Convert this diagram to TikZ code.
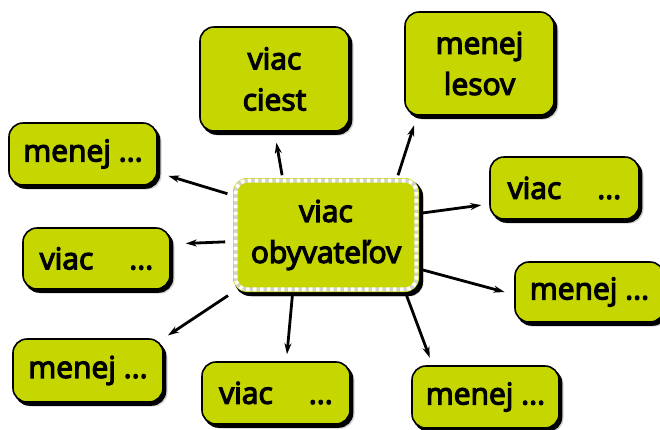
\documentclass[tikz,border=0pt]{standalone}
\usepackage{fontspec}
\setmainfont{Open Sans}[FakeBold=4]
\usepackage{xcolor}
\definecolor{leaf}{RGB}{197,214,0}
\usepackage{tikz}
\usetikzlibrary{arrows.meta,shadows}

\tikzset{
  box/.style={draw=black, line width=1.6pt, fill=leaf, rounded corners=14pt, align=center, inner sep=0pt,
    drop shadow={shadow xshift=4.5pt, shadow yshift=-4.5pt, fill=gray, opacity=0.35},
    copy shadow={shadow xshift=2.5pt, shadow yshift=-3pt, fill=black, draw=black}},
  hub/.style={box, draw=none,
    copy shadow={shadow xshift=4pt, shadow yshift=-4pt, fill=black, draw=none}},
  perf/.style={white, line width=4pt, dash pattern=on 3.5pt off 3.5pt, rounded corners=11pt,
    preaction={draw=gray!35, line width=4pt, dash pattern=on 3.5pt off 3.5pt, dash phase=3.5pt}},
  arr/.style={line width=2.8pt, -{Stealth[length=11pt, width=7pt]}},
}

\begin{document}
\begin{tikzpicture}[x=1pt, y=-1pt, font=\fontsize{30}{41}\selectfont]
\useasboundingbox (0,0) rectangle (660,429);
% hub
\node[hub, minimum width=186pt, minimum height=114pt] (cen) at (326,235) {viac\\obyvateľov};
\draw[perf] ([shift={(3.5,-3.5)}]cen.south west) rectangle ([shift={(-3.5,3.5)}]cen.north east);
% top
\node[box, minimum width=149pt, minimum height=104pt] (ciest) at (274.5,79) {viac\\ciest};
\node[box, minimum width=149pt, minimum height=103pt] (lesov) at (479.5,63.5) {menej\\lesov};
% left side
\node[box, minimum width=148pt, minimum height=62pt] (mlt) at (83,154) {menej ...};
\node[box, minimum width=147pt, minimum height=61pt] (vl) at (96.5,258.5) {viac\hspace{1.2em}...};
\node[box, minimum width=150pt, minimum height=63pt] (mbl) at (88,370.5) {menej ...};
% bottom
\node[box, minimum width=148pt, minimum height=62pt] (vb) at (276,393) {viac\hspace{1.2em}...};
\node[box, minimum width=147pt, minimum height=62pt] (mbr) at (485.5,397) {menej ...};
% right side
\node[box, minimum width=149pt, minimum height=62pt] (vr) at (564.5,188) {viac\hspace{1.2em}...};
\node[box, minimum width=149pt, minimum height=60pt] (mr) at (589.5,292) {menej ...};
% connectors
\draw[arr, shorten <=2pt, shorten >=11pt] (cen.127) -- (ciest.south);
\draw[arr, shorten <=2pt, shorten >=10pt] (cen.39) -- (lesov.220);
\draw[arr, shorten <=3pt, shorten >=8pt] (cen.13) -- (vr.192);
\draw[arr, shorten <=3pt, shorten >=10pt] (cen.340) -- (mr.182);
\draw[arr, shorten <=3pt, shorten >=8pt] (cen.324) -- (mbr.149);
\draw[arr, shorten <=3pt, shorten >=7pt] (cen.240) -- (vb.72);
\draw[arr, shorten <=5pt, shorten >=5pt] (cen.south west) -- (mbl.north east);
\draw[arr, shorten <=7pt, shorten >=15pt] (cen.184) -- (vl.11);
\draw[arr, shorten <=5pt, shorten >=11pt] (cen.157) -- (mlt.346);
\end{tikzpicture}
\end{document}
